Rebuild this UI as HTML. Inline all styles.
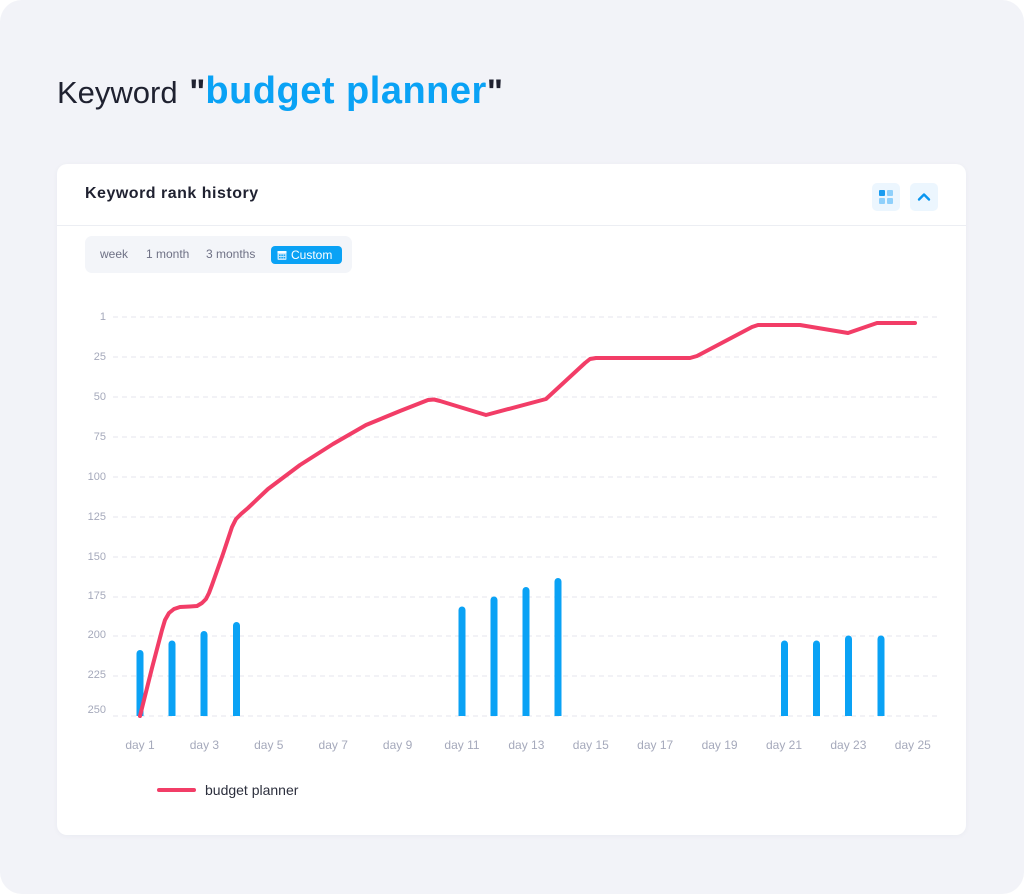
<!DOCTYPE html>
<html>
<head>
<meta charset="utf-8">
<style>
html,body{margin:0;padding:0;background:#ffffff;}
body{width:1024px;height:894px;position:relative;overflow:hidden;font-family:"Liberation Sans",sans-serif;}
.page{position:absolute;left:0;top:0;width:1024px;height:894px;background:#f2f3f8;border-radius:22px;}
.title{position:absolute;left:57px;top:71px;font-size:31px;color:#1f2130;white-space:nowrap;line-height:40px;}
.title .q{font-weight:bold;color:#1f2130;font-size:34px;}
.title .q1{margin-left:3px;}
.title .kw{font-weight:bold;color:#0aa2f5;font-size:38px;letter-spacing:0.5px;}
.card{position:absolute;left:57px;top:164px;width:909px;height:671px;background:#fff;border-radius:10px;box-shadow:0 1px 6px rgba(30,40,80,0.04);}
.hdr{position:absolute;left:28px;top:20px;font-size:16px;font-weight:bold;color:#1f2130;letter-spacing:0.5px;line-height:20px;}
.divider{position:absolute;left:0;top:61px;width:909px;height:1px;background:#eceef3;}
.ibtn{position:absolute;top:19px;width:28px;height:28px;border-radius:5px;background:#ecf6fe;}
.seg{position:absolute;left:28px;top:72px;width:267px;height:37px;background:#f3f5f9;border-radius:7px;}
.seg span{position:absolute;top:11px;font-size:12px;color:#6e7185;line-height:15px;white-space:nowrap;}
.custom{position:absolute;left:186px;top:10px;width:71px;height:18px;background:#0aa2f5;border-radius:4px;}
.custom .t{position:absolute;left:20px;top:1px;font-size:12px;color:#fff;line-height:16px;}
svg{position:absolute;left:0;top:0;}
</style>
</head>
<body>
<div class="page"></div>
<div class="title">Keyword <span class="q q1">"</span><span class="kw">budget planner</span><span class="q">"</span></div>
<div class="card">
  <div class="hdr">Keyword rank history</div>
  <div class="ibtn" style="left:815px;">
    <div style="position:absolute;left:7px;top:7px;width:6px;height:6px;background:#1a9cf0;border-radius:1px;"></div>
    <div style="position:absolute;left:15px;top:7px;width:6px;height:6px;background:#8fd0fb;border-radius:1px;"></div>
    <div style="position:absolute;left:7px;top:15px;width:6px;height:6px;background:#8fd0fb;border-radius:1px;"></div>
    <div style="position:absolute;left:15px;top:15px;width:6px;height:6px;background:#8fd0fb;border-radius:1px;"></div>
  </div>
  <div class="ibtn" style="left:853px;">
    <svg width="28" height="28" viewBox="0 0 28 28"><polyline points="9,16.5 14,11.5 19,16.5" fill="none" stroke="#0a96f0" stroke-width="2.4" stroke-linecap="round" stroke-linejoin="round"/></svg>
  </div>
  <div class="divider"></div>
  <div class="seg">
    <span style="left:15px;">week</span>
    <span style="left:61px;">1 month</span>
    <span style="left:121px;">3 months</span>
    <div class="custom">
      <svg width="12" height="12" viewBox="0 0 12 12" style="left:6px;top:4px;">
        <rect x="0.5" y="1" width="9" height="9" rx="1" fill="#bfe6fd"/>
        <rect x="0.5" y="1" width="9" height="2.2" fill="#ffffff" opacity="0.9"/>
        <g fill="#0aa2f5"><rect x="2" y="4.5" width="1.6" height="1.4"/><rect x="4.3" y="4.5" width="1.6" height="1.4"/><rect x="6.6" y="4.5" width="1.6" height="1.4"/><rect x="2" y="7" width="1.6" height="1.4"/><rect x="4.3" y="7" width="1.6" height="1.4"/><rect x="6.6" y="7" width="1.6" height="1.4"/></g>
      </svg>
      <span class="t">Custom</span>
    </div>
  </div>
</div>

<svg width="1024" height="894" viewBox="0 0 1024 894">
  <g stroke="#e4e6ee" stroke-width="1" stroke-dasharray="5 4">
    <line x1="113" y1="317" x2="939" y2="317"/>
    <line x1="113" y1="357" x2="939" y2="357"/>
    <line x1="113" y1="397" x2="939" y2="397"/>
    <line x1="113" y1="437" x2="939" y2="437"/>
    <line x1="113" y1="477" x2="939" y2="477"/>
    <line x1="113" y1="517" x2="939" y2="517"/>
    <line x1="113" y1="557" x2="939" y2="557"/>
    <line x1="113" y1="597" x2="939" y2="597"/>
    <line x1="113" y1="636" x2="939" y2="636"/>
    <line x1="113" y1="676" x2="939" y2="676"/>
    <line x1="113" y1="716" x2="939" y2="716"/>
  </g>
  <g font-family="Liberation Sans, sans-serif" font-size="11" fill="#a5a9bb" text-anchor="end">
    <text x="106" y="320">1</text>
    <text x="106" y="360">25</text>
    <text x="106" y="400">50</text>
    <text x="106" y="440">75</text>
    <text x="106" y="480">100</text>
    <text x="106" y="520">125</text>
    <text x="106" y="560">150</text>
    <text x="106" y="599">175</text>
    <text x="106" y="638">200</text>
    <text x="106" y="678">225</text>
    <text x="106" y="713">250</text>
  </g>
  <g font-family="Liberation Sans, sans-serif" font-size="12" fill="#a5a9bb" text-anchor="middle">
    <text x="140" y="749">day 1</text>
    <text x="204.4" y="749">day 3</text>
    <text x="268.8" y="749">day 5</text>
    <text x="333.2" y="749">day 7</text>
    <text x="397.6" y="749">day 9</text>
    <text x="462" y="749">day 11</text>
    <text x="526.4" y="749">day 13</text>
    <text x="590.8" y="749">day 15</text>
    <text x="655.2" y="749">day 17</text>
    <text x="719.6" y="749">day 19</text>
    <text x="784" y="749">day 21</text>
    <text x="848.4" y="749">day 23</text>
    <text x="912.8" y="749">day 25</text>
  </g>
  <g fill="#0aa2f5">
    <path d="M136.5,716 V653.5 a3.5,3.5 0 0 1 7,0 V716 Z"/>
    <path d="M168.5,716 V644 a3.5,3.5 0 0 1 7,0 V716 Z"/>
    <path d="M200.5,716 V634.5 a3.5,3.5 0 0 1 7,0 V716 Z"/>
    <path d="M233,716 V625.5 a3.5,3.5 0 0 1 7,0 V716 Z"/>
    <path d="M458.5,716 V610 a3.5,3.5 0 0 1 7,0 V716 Z"/>
    <path d="M490.5,716 V600 a3.5,3.5 0 0 1 7,0 V716 Z"/>
    <path d="M522.5,716 V590.5 a3.5,3.5 0 0 1 7,0 V716 Z"/>
    <path d="M554.5,716 V581.5 a3.5,3.5 0 0 1 7,0 V716 Z"/>
    <path d="M781,716 V644 a3.5,3.5 0 0 1 7,0 V716 Z"/>
    <path d="M813,716 V644 a3.5,3.5 0 0 1 7,0 V716 Z"/>
    <path d="M845,716 V639 a3.5,3.5 0 0 1 7,0 V716 Z"/>
    <path d="M877.5,716 V639 a3.5,3.5 0 0 1 7,0 V716 Z"/>
  </g>
  <polyline fill="none" stroke="#f23d67" stroke-width="4" stroke-linejoin="round" stroke-linecap="round"
    points="140,716 152,668 162,630 165,620 169,613 174,609 180,607 190,606.5 197,606 202,603 206,599 209,593 212,585 223,554 232,527 236,519 241,514 248,508 268,489 300,465 333,444 366,425 400,411 428,400 434,399.5 440,401 486,415 546,399 585,363 590,359 596,358 690,358 697,356 752,327 758,325 800,325 848,333 877,323 915,323"/>
  <line x1="159" y1="790" x2="194" y2="790" stroke="#f23d67" stroke-width="4" stroke-linecap="round"/>
  <text x="205" y="795" font-family="Liberation Sans, sans-serif" font-size="14" fill="#2c2f3d">budget planner</text>
</svg>
</body>
</html>
